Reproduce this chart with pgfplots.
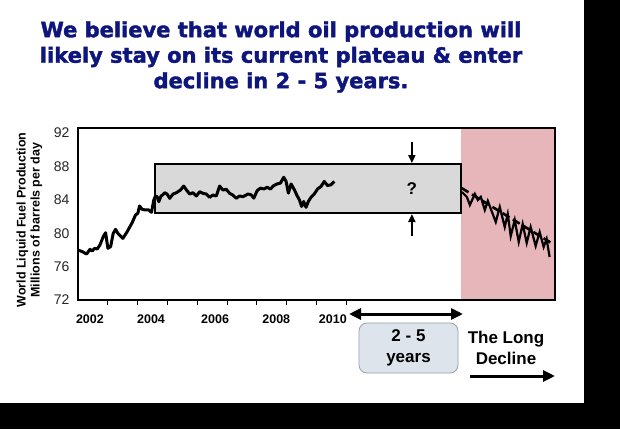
\documentclass[border=0pt]{standalone}
\usepackage{fontspec}
\setmainfont{Liberation Sans}
\newfontfamily\titlefont[FakeBold=1.8]{DejaVu Sans}
\usepackage{pgfplots}
\pgfplotsset{compat=1.18}
\usetikzlibrary{arrows.meta}
\definecolor{navy}{RGB}{14,22,125}
\definecolor{pinkreg}{RGB}{231,182,186}
\definecolor{boxgray}{RGB}{217,217,217}
\definecolor{blbox}{RGB}{222,228,235}
\definecolor{blborder}{RGB}{150,160,172}
\begin{document}
\begin{tikzpicture}[x=1pt,y=1pt]
\path[use as bounding box] (0,0) rectangle (620,429);
\fill[white] (0,0) rectangle (620,429);
\fill[black] (584,0) rectangle (620,429);
\fill[black] (0,0) rectangle (620,26);
\node[font=\titlefont\bfseries\fontsize{21}{25.5}\selectfont, text=navy, align=center] at (281,372) {We believe that world oil production will\\likely stay on its current plateau \& enter\\decline in 2 - 5 years.};
\begin{axis}[at={(78pt,129pt)}, anchor=south west, scale only axis,
  width=477pt, height=172pt,
  xmin=2002, xmax=2018, ymin=72, ymax=92.6,
  axis on top,
  axis line style={line width=2pt},
  ytick={72,76,...,92},
  ytick style={draw=none},
  yticklabel style={font=\fontsize{14}{16}\selectfont, text=black!85},
  /pgf/number format/assume math mode=true,
  xtick={2003,...,2011}, xticklabels={},
  xtick style={line width=1pt, black},
  tick align=outside, xtick pos=bottom, ytick pos=left,
  major tick length=5pt,
  extra x ticks={2002.4,2004.45,2006.6,2008.65,2010.55},
  extra x tick labels={2002,2004,2006,2008,2010},
  extra x tick style={major tick length=0pt, xticklabel style={font=\bfseries\fontsize{12.5}{14}\selectfont, yshift=-11pt}},
]
\fill[pinkreg] (axis cs:2014.85,72) rectangle (axis cs:2018,92.6);
\draw[line width=2pt, fill=boxgray] (axis cs:2004.58,82.4) rectangle (axis cs:2014.85,88.3);
\addplot[line width=3pt, line join=round, black] coordinates {
(2002.000,77.99) (2002.144,77.79) (2002.291,77.51) (2002.401,78.07) (2002.478,77.87)
(2002.559,78.19) (2002.645,78.11) (2002.736,78.59) (2002.846,79.58) (2002.926,80.06)
(2003.003,78.19) (2003.094,78.39) (2003.181,79.98) (2003.261,80.46) (2003.338,79.98)
(2003.428,79.66) (2003.505,79.38) (2003.649,80.18) (2003.816,81.26) (2003.930,82.18)
(2004.007,82.38) (2004.064,83.26) (2004.151,82.86) (2004.264,82.78) (2004.375,82.78)
(2004.465,82.50) (2004.542,83.98) (2004.599,84.46) (2004.652,84.38) (2004.709,83.77)
(2004.786,84.46) (2004.833,84.57) (2004.910,84.85) (2004.987,84.69) (2005.077,84.18)
(2005.187,84.69) (2005.301,84.85) (2005.435,85.17) (2005.545,85.65) (2005.656,85.09)
(2005.746,84.69) (2005.856,84.85) (2005.970,84.46) (2006.080,84.97) (2006.191,84.78)
(2006.304,84.69) (2006.415,84.30) (2006.525,84.57) (2006.639,84.46) (2006.749,85.65)
(2006.860,85.17) (2006.973,85.26) (2007.084,84.78) (2007.194,84.57) (2007.308,84.18)
(2007.418,84.46) (2007.528,84.37) (2007.642,84.57) (2007.696,84.70) (2007.809,84.60)
(2007.896,84.20) (2008.010,85.10) (2008.120,85.40) (2008.231,85.30) (2008.344,85.50)
(2008.455,85.30) (2008.565,85.70) (2008.679,85.90) (2008.789,86.00) (2008.900,86.70)
(2008.980,86.20) (2009.057,84.80) (2009.147,85.90) (2009.258,85.20) (2009.348,84.50)
(2009.425,84.00) (2009.502,83.20) (2009.569,83.80) (2009.649,83.10) (2009.726,83.80)
(2009.816,84.30) (2009.926,84.70) (2010.037,85.30) (2010.151,85.60) (2010.261,86.20)
(2010.371,85.70) (2010.485,85.80) (2010.595,86.20)
};
\addplot[line width=2.6pt, black, dash pattern=on 8pt off 4pt] coordinates {(2014.87,85.4) (2017.89,78.8)};
\addplot[line width=2.2pt, black, line join=miter] coordinates {
(2014.876,84.93) (2015.043,84.34) (2015.144,83.38) (2015.311,84.69) (2015.411,83.98)
(2015.512,84.34) (2015.645,82.78) (2015.746,83.86) (2016.013,81.34) (2016.147,83.14)
(2016.314,80.74) (2016.415,82.30) (2016.515,79.66) (2016.649,81.58) (2016.783,78.95)
(2016.916,81.10) (2017.050,78.83) (2017.184,80.74) (2017.351,78.47) (2017.485,80.14)
(2017.619,78.35) (2017.719,79.31) (2017.819,77.15)
};
\draw[-{Triangle[length=8pt,width=7pt]}, line width=1.8pt] (axis cs:2013.2,90.9) -- (axis cs:2013.2,88.4);
\draw[-{Triangle[length=8pt,width=7pt]}, line width=1.8pt] (axis cs:2013.2,79.7) -- (axis cs:2013.2,82.3);
\node[font=\bfseries\fontsize{17}{20}\selectfont] at (axis cs:2013.2,85.4) {?};
\end{axis}
\node[rotate=90, font=\bfseries\fontsize{12.5}{14}\selectfont] at (22.5,209) {World Liquid Fuel Production};
\node[rotate=90, font=\bfseries\fontsize{12.5}{14}\selectfont] at (36.5,209) {Millions of barrels per day};
\draw[{Triangle[length=12pt,width=11pt]}-{Triangle[length=12pt,width=11pt]}, line width=3pt] (349,115) -- (463,115);
\draw[draw=blborder, fill=blbox, rounded corners=8pt, line width=0.8pt] (359,56) rectangle (458,106);
\node[font=\bfseries\fontsize{17}{21}\selectfont, align=center] at (408.5,81) {2 - 5\\years};
\node[font=\bfseries\fontsize{17}{21}\selectfont, align=center] at (506,81) {The Long\\Decline};
\draw[-{Triangle[length=12pt,width=11pt]}, line width=3pt] (470,53) -- (555,53);
\end{tikzpicture}
\end{document}
